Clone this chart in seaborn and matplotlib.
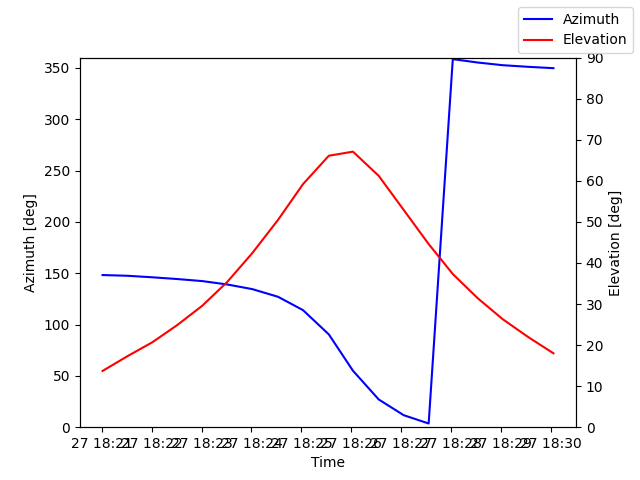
import matplotlib
matplotlib.use("Agg")
import matplotlib.pyplot as plt
import matplotlib.dates as mdates
import seaborn as sns
import pandas as pd

times = ["2024-01-27 18:21:01", "2024-01-27 18:21:31", "2024-01-27 18:22:01", "2024-01-27 18:22:31",
         "2024-01-27 18:23:01", "2024-01-27 18:23:31", "2024-01-27 18:24:01", "2024-01-27 18:24:32",
         "2024-01-27 18:25:02", "2024-01-27 18:25:33", "2024-01-27 18:26:02", "2024-01-27 18:26:33",
         "2024-01-27 18:27:03", "2024-01-27 18:27:33", "2024-01-27 18:28:02", "2024-01-27 18:28:32",
         "2024-01-27 18:29:02", "2024-01-27 18:29:33", "2024-01-27 18:30:03"]
azimuth = [148.2, 147.5, 146.0, 144.3, 142.3, 139.0, 134.5, 127.0, 114.0, 90.4,
           55.0, 27.0, 11.7, 3.6, 358.5, 355.2, 352.6, 351.0, 349.7]
elevation = [13.7, 17.3, 20.7, 24.9, 29.6, 35.4, 42.4, 50.5, 59.2, 66.1,
             67.1, 61.2, 52.9, 44.6, 37.3, 31.4, 26.3, 21.9, 18.0]

df = pd.DataFrame({"Time": pd.to_datetime(times), "Azimuth": azimuth, "Elevation": elevation})

fig, ax = plt.subplots(figsize=(6.4, 4.8), dpi=100)
ax2 = ax.twinx()
sns.lineplot(data=df, x="Time", y="Azimuth", ax=ax, color="blue", label="Azimuth", legend=False)
sns.lineplot(data=df, x="Time", y="Elevation", ax=ax2, color="red", label="Elevation", legend=False)

ax.set_ylim(0, 360)
ax2.set_ylim(0, 90)
ax.set_ylabel("Azimuth [deg]")
ax2.set_ylabel("Elevation [deg]")
ax.set_xlabel("Time")
ax.xaxis.set_major_locator(mdates.MinuteLocator())
ax.xaxis.set_major_formatter(mdates.DateFormatter("%d %H:%M"))

h1, l1 = ax.get_legend_handles_labels()
h2, l2 = ax2.get_legend_handles_labels()
fig.legend(h1 + h2, l1 + l2, loc="upper right")

fig.savefig("out.png", dpi=100)
